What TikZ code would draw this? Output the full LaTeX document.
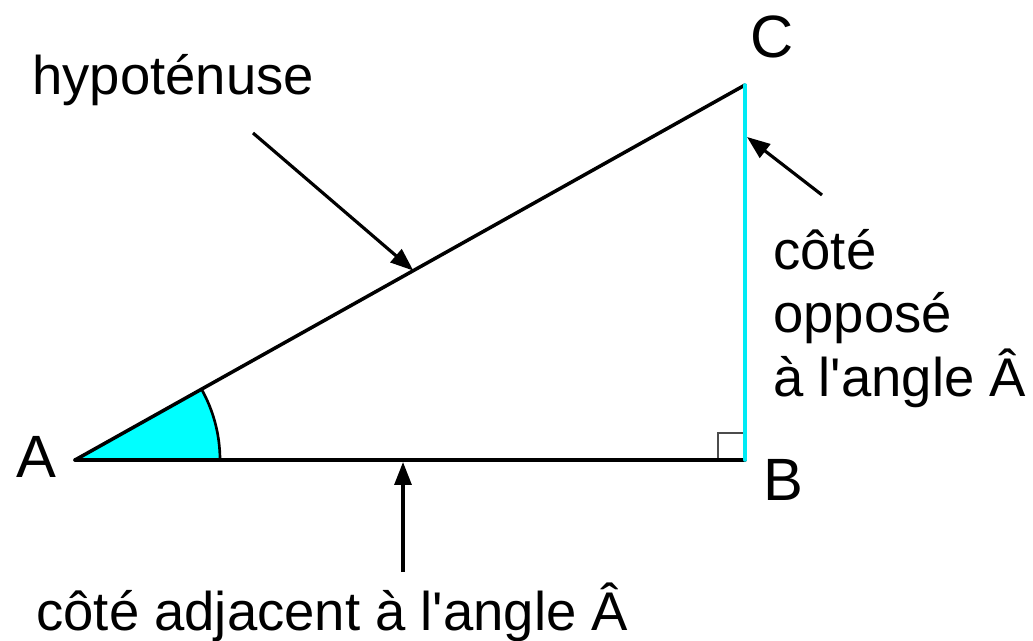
\documentclass[tikz,border=0pt]{standalone}
\usepackage{fontspec}
\setmainfont{Liberation Sans}[Ligatures=TeXOff]
\usetikzlibrary{arrows.meta,calc}
\definecolor{sidecyan}{RGB}{0,235,245}
\definecolor{anglecyan}{RGB}{0,255,255}

\begin{document}
\begin{tikzpicture}[
  x=0.02cm, y=-0.02cm,
  side/.style={line width=2pt, line cap=round},
  pointer/.style={-{Triangle[length=0.46cm, width=0.34cm]}, line width=1.8pt},
  vertex/.style={inner sep=0pt, font=\fontsize{34}{40}\selectfont},
  caption/.style={inner sep=0pt, font=\fontsize{31}{36}\selectfont}
]
\useasboundingbox (0,0) rectangle (1033,641);

% Vertices
\coordinate (A) at (75,460);
\coordinate (B) at (745,460);
\coordinate (C) at (745,85);

% Angle at A
\fill[anglecyan] (A) -- ++(145,0) arc[start angle=0, end angle=29.24, x radius=145, y radius=-145] -- cycle;
\draw[line width=1.5pt] ($(A)+(145,0)$) arc[start angle=0, end angle=29.24, x radius=145, y radius=-145];

% Right angle at B
\draw[line width=0.9pt, black!70] ($(B)+(-27,0)$) |- ($(B)+(0,-27)$);

% Sides
\draw[side] (A) -- (B);
\draw[side] (A) -- (C);
\draw[side, sidecyan] (B) -- (C);

% Labels of the vertices
\node[vertex] (labA) at (36,457) {A};
\node[vertex] (labB) at (783,480) {B};
\node[vertex] (labC) at (772,37) {C};

% Texts
\node[caption, anchor=base west] (hyp) at (32,95) {hypoténuse};
\node[caption, anchor=base west] (adj) at (36,630) {côté adjacent à l'angle Â};
\node[caption, anchor=base west] (opp1) at (773,270) {côté};
\node[caption, anchor=base west] (opp2) at (773,333) {opposé};
\node[caption, anchor=base west] (opp3) at (773,396) {à l'angle Â};

% Pointers
\coordinate (hypTail) at (253,133);
\coordinate (hypTip) at ($(A)!0.505!(C)$);
\coordinate (oppTail) at (822,195);
\coordinate (oppTip) at (747,137);
\coordinate (adjTail) at (403,572);
\coordinate (adjTip) at (403,462);
\draw[pointer] (hypTail) -- (hypTip);
\draw[pointer] (oppTail) -- (oppTip);
\draw[pointer] (adjTail) -- (adjTip);

\end{tikzpicture}
\end{document}
